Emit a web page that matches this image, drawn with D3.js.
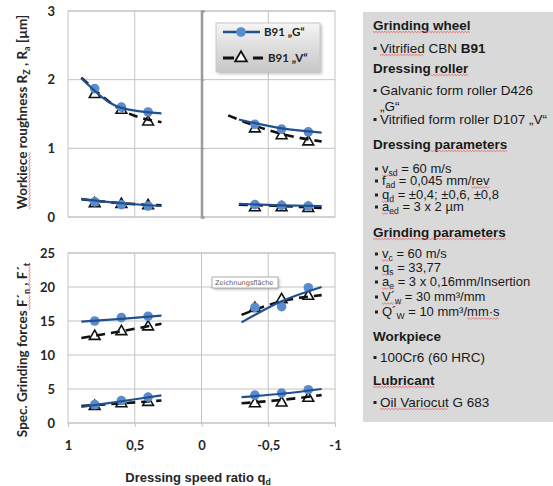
<!DOCTYPE html>
<html>
<head>
<meta charset="utf-8">
<script src="https://cdn.jsdelivr.net/npm/d3@7"></script>
<style>
  body { margin: 0; background: #fff; }
</style>
</head>
<body>
<script>
// Dressing speed ratios of the measured points
const qd = [0.8, 0.6, 0.4, -0.4, -0.6, -0.8];

// Workpiece roughness [µm]
const rzG = [1.87, 1.60, 1.53, 1.35, 1.28, 1.24];
const rzV = [1.80, 1.57, 1.40, 1.30, 1.20, 1.11];
const raG = [0.22, 0.18, 0.16, 0.18, 0.17, 0.16];
const raV = [0.21, 0.20, 0.18, 0.15, 0.15, 0.14];

// Spec. grinding forces [N/mm]
const fnG = [15.0, 15.5, 15.7, 17.0, 17.1, 19.9];
const fnV = [12.9, 13.6, 14.3, 17.0, 18.3, 18.8];
const ftG = [2.7, 3.3, 3.8, 4.1, 4.4, 4.9];
const ftV = [2.6, 3.0, 3.2, 3.0, 3.1, 3.8];

// Trend lines: [q, value]
const trendRzGL = [[0.9, 2.02], [0.6, 1.59], [0.3, 1.51]];
const trendRzVL = [[0.9, 2.03], [0.6, 1.56], [0.3, 1.38]];
const trendRzGR = [[-0.28, 1.42], [-0.6, 1.29], [-0.9, 1.23]];
const trendRzVR = [[-0.2, 1.48], [-0.4, 1.33], [-0.6, 1.21], [-0.9, 1.10]];
const trendRaGL = [[0.9, 0.26], [0.6, 0.20], [0.3, 0.16]];
const trendRaVL = [[0.9, 0.26], [0.6, 0.20], [0.3, 0.17]];
const trendRaGR = [[-0.28, 0.19], [-0.6, 0.17], [-0.9, 0.16]];
const trendRaVR = [[-0.28, 0.18], [-0.6, 0.16], [-0.9, 0.13]];
const trendFnGL = [[0.9, 14.9], [0.6, 15.3], [0.3, 15.8]];
const trendFnVL = [[0.9, 12.5], [0.6, 13.5], [0.3, 14.6]];
const trendFnGR = [[-0.3, 14.8], [-0.6, 17.9], [-0.9, 20.0]];
const trendFnVR = [[-0.3, 15.9], [-0.6, 17.9], [-0.9, 18.8]];
const trendFtGL = [[0.9, 2.35], [0.6, 3.2], [0.3, 4.05]];
const trendFtVL = [[0.9, 2.5], [0.6, 2.9], [0.3, 3.3]];
const trendFtGR = [[-0.3, 3.8], [-0.6, 4.3], [-0.9, 5.0]];
const trendFtVR = [[-0.3, 2.9], [-0.6, 3.4], [-0.9, 4.1]];

// Axis ticks
const xTicks = [1, 0.5, 0, -0.5, -1];
const topTicks = [0, 1, 2, 3];
const botTicks = [0, 5, 10, 15, 20, 25];
const legendLabels = ["B91 \u201eG\u201c", "B91 \u201eV\u201c"];

// Text of the side panel (u = red spell-check squiggle, sub = subscript, b = bold)
const panelLines = [
  { kind: "h", y: 29.5, parts: [{ t: "Grinding", u: 1 }, { t: " " }, { t: "wheel", u: 1 }] },
  { kind: "item", y: 52.5, parts: [{ t: "Vitrified", u: 1 }, { t: " CBN " }, { t: "B91", b: 1 }] },
  { kind: "h", y: 72.5, parts: [{ t: "Dressing " }, { t: "roller", u: 1 }] },
  { kind: "item", y: 94.5, parts: [{ t: "Galvanic form roller D426" }] },
  { kind: "cont", y: 110.5, parts: [{ t: "\u201eG\u201c" }] },
  { kind: "item", y: 123.5, parts: [{ t: "Vitrified form roller D107 \u201eV\u201c" }] },
  { kind: "h", y: 148.5, parts: [{ t: "Dressing " }, { t: "parameters", u: 1 }] },
  { kind: "sub", y: 173, parts: [{ t: "v", u: 1 }, { t: "sd", sub: 1, u: 1 }, { t: " = 60 m/s" }] },
  { kind: "sub", y: 185, parts: [{ t: "f" }, { t: "ad", sub: 1 }, { t: " = 0,045 mm/" }, { t: "rev", u: 1 }] },
  { kind: "sub", y: 199, parts: [{ t: "q", u: 1 }, { t: "d", sub: 1, u: 1 }, { t: " = \u00b10,4; \u00b10,6, \u00b10,8" }] },
  { kind: "sub", y: 211, parts: [{ t: "a", u: 1 }, { t: "ed", sub: 1, u: 1 }, { t: " = 3 x 2 \u00b5m" }] },
  { kind: "h", y: 236.5, parts: [{ t: "Grinding", u: 1 }, { t: " " }, { t: "parameters", u: 1 }] },
  { kind: "sub", y: 258, parts: [{ t: "v", u: 1 }, { t: "c", sub: 1, u: 1 }, { t: " = 60 m/s" }] },
  { kind: "sub", y: 272, parts: [{ t: "q", u: 1 }, { t: "s", sub: 1, u: 1 }, { t: " = 33,77" }] },
  { kind: "sub", y: 286, parts: [{ t: "a", u: 1 }, { t: "e", sub: 1, u: 1 }, { t: " = 3 x 0,16mm/Insertion" }] },
  { kind: "sub", y: 301, parts: [{ t: "V\u00b4", u: 1 }, { t: "w", sub: 1, u: 1 }, { t: " = 30 mm\u00b3/mm" }] },
  { kind: "sub", y: 316, parts: [{ t: "Q\u00b4" }, { t: "W", sub: 1 }, { t: " = 10 mm\u00b3/" }, { t: "mm\u00b7s", u: 1 }] },
  { kind: "h", y: 340.5, parts: [{ t: "Workpiece" }] },
  { kind: "item", y: 361.5, parts: [{ t: "100Cr6 (60 HRC)" }] },
  { kind: "h", y: 384.5, parts: [{ t: "Lubricant", u: 1 }] },
  { kind: "item", y: 406.5, parts: [{ t: "Oil", u: 1 }, { t: " " }, { t: "Variocut", u: 1 }, { t: " G 683" }] }
];

const width = 553, height = 486;
const navy = "#20508f", dotBlue = "#5a8ccd", grid = "#c3c3c3";
const chartFont = "Lato, 'Open Sans', sans-serif";
const panelFont = "'Liberation Sans', Arial, sans-serif";

const svg = d3.select("body").append("svg")
    .attr("width", width)
    .attr("height", height);

const defs = svg.append("defs");
const grad = defs.append("linearGradient").attr("id", "legGrad")
    .attr("x1", 0).attr("y1", 0).attr("x2", 0).attr("y2", 1);
grad.append("stop").attr("offset", "0%").attr("stop-color", "#f5f5f5");
grad.append("stop").attr("offset", "100%").attr("stop-color", "#c6c6c6");
const blur = defs.append("filter").attr("id", "soft")
    .attr("x", "-20%").attr("y", "-20%").attr("width", "140%").attr("height", "140%");
blur.append("feGaussianBlur").attr("stdDeviation", 1.5);

// Scales
const x = d3.scaleLinear().domain([1, -1]).range([68, 335]);
const yTop = d3.scaleLinear().domain([0, 3]).range([217, 11]);
const yBot = d3.scaleLinear().domain([0, 25]).range([423, 253]);

// red wavy underline
function squiggle(g, x0, x1, y) {
    const pts = [];
    let up = true;
    for (let xx = x0; xx <= x1 + 0.01; xx += 1.5) {
        pts.push([xx, y + (up ? -0.7 : 0.7)]);
        up = !up;
    }
    g.append("path")
        .attr("d", d3.line()(pts))
        .attr("fill", "none")
        .attr("stroke", "#e25a5a")
        .attr("stroke-width", 0.8);
}

// Text made of parts, measured piece by piece for the underlines
function richText(parent, tx, ty, parts, o) {
    const outer = parent.append("g")
        .attr("transform", `translate(${tx},${ty})` + (o.rotate ? ` rotate(${o.rotate})` : ""));
    const inner = outer.append("g");
    const text = inner.append("text")
        .attr("font-family", o.font)
        .attr("font-size", o.size)
        .attr("font-weight", o.weight || "normal")
        .attr("fill", o.fill || "#000");
    const marks = [];
    let prev = 0, shift = 0;
    parts.forEach(p => {
        const span = text.append("tspan").text(p.t);
        const want = p.sub ? o.size * 0.25 : 0;
        if (want !== shift) { span.attr("dy", want - shift); shift = want; }
        if (p.sub) span.attr("font-size", o.size * 0.66);
        if (p.b) span.attr("font-weight", "bold");
        const end = text.node().getComputedTextLength();
        if (p.u) marks.push([prev, end]);
        prev = end;
    });
    if (o.anchor === "middle") inner.attr("transform", `translate(${-prev / 2},0)`);
    marks.forEach(m => squiggle(inner, m[0], m[1], 2.5));
    return prev;
}

// Plot frame, grid and axes for one panel
function drawFrame(y, yTicks, vLines) {
    const g = svg.append("g");
    g.selectAll(".hgrid").data(yTicks).enter().append("line")
        .attr("x1", x(1)).attr("x2", x(-1))
        .attr("y1", d => y(d)).attr("y2", d => y(d))
        .attr("stroke", grid).attr("stroke-width", 1);
    g.selectAll(".vgrid").data(vLines).enter().append("line")
        .attr("x1", d => x(d)).attr("x2", d => x(d))
        .attr("y1", y.range()[0]).attr("y2", y.range()[1])
        .attr("stroke", grid).attr("stroke-width", 1);
    g.append("rect")
        .attr("x", x(1)).attr("y", y.range()[1])
        .attr("width", x(-1) - x(1)).attr("height", y.range()[0] - y.range()[1])
        .attr("fill", "none").attr("stroke", grid);

    const yAxis = svg.append("g")
        .attr("transform", `translate(${x(1)},0)`)
        .call(d3.axisLeft(y).tickValues(yTicks).tickSize(0).tickPadding(13)
            .tickFormat(d => String(d)));
    yAxis.select(".domain").remove();
    yAxis.selectAll("text")
        .attr("font-family", chartFont).attr("font-weight", "bold")
        .attr("font-size", 13).attr("fill", "#262626");
    return g;
}

// Trend line + markers of one series
function drawSeries(g, y, vals, trends, isG) {
    const line = d3.line()
        .x(d => x(d[0])).y(d => y(d[1]))
        .curve(d3.curveMonotoneX);
    if (isG) {
        g.selectAll(null).data(qd.map((q, i) => [q, vals[i]])).enter().append("circle")
            .attr("cx", d => x(d[0])).attr("cy", d => y(d[1]))
            .attr("r", 4.8).attr("fill", dotBlue);
    } else {
        g.selectAll(null).data(qd.map((q, i) => [q, vals[i]])).enter().append("path")
            .attr("transform", d => `translate(${x(d[0])},${y(d[1]) + 1})`)
            .attr("d", d3.symbol(d3.symbolTriangle, 50))
            .attr("fill", "#fff").attr("stroke", "#111").attr("stroke-width", 1.6);
    }
    trends.forEach(t => {
        g.append("path").attr("d", line(t))
            .attr("fill", "none")
            .attr("stroke", isG ? navy : "#111")
            .attr("stroke-width", isG ? 2.2 : 2.6)
            .attr("stroke-dasharray", isG ? null : "9,6");
    });
}

// ---- Top panel: roughness ----
drawFrame(yTop, topTicks, [0.5, -0.5]);
const midAxis = svg.append("g")
    .attr("transform", `translate(${x(0)},0)`)
    .call(d3.axisRight(yTop).tickValues(topTicks).tickSize(3).tickFormat(""));
midAxis.selectAll("path, line").attr("stroke", "#9a9a9a");
midAxis.select(".domain").attr("stroke-width", 2.5);

const topMarks = svg.append("g");
drawSeries(topMarks, yTop, rzV, [trendRzVL, trendRzVR], false);
drawSeries(topMarks, yTop, raV, [trendRaVL, trendRaVR], false);
drawSeries(topMarks, yTop, rzG, [trendRzGL, trendRzGR], true);
drawSeries(topMarks, yTop, raG, [trendRaGL, trendRaGR], true);

// ---- Bottom panel: forces ----
drawFrame(yBot, botTicks, [0.5, 0, -0.5]);
const xAxis = svg.append("g")
    .attr("transform", `translate(0,${yBot(0)})`)
    .call(d3.axisBottom(x).tickValues(xTicks).tickSize(4).tickPadding(14)
        .tickFormat(d => String(d).replace(".", ",")));
xAxis.select(".domain").remove();
xAxis.selectAll("line").attr("stroke", grid);
xAxis.selectAll("text")
    .attr("font-family", chartFont).attr("font-weight", "bold")
    .attr("font-size", 13).attr("fill", "#262626");

const botMarks = svg.append("g");
drawSeries(botMarks, yBot, fnV, [trendFnVL, trendFnVR], false);
drawSeries(botMarks, yBot, ftV, [trendFtVL, trendFtVR], false);
drawSeries(botMarks, yBot, fnG, [trendFnGL, trendFnGR], true);
drawSeries(botMarks, yBot, ftG, [trendFtGL, trendFtGR], true);

// "Zeichnungsfläche" tooltip caught in the screenshot
const tip = svg.append("g").attr("transform", "translate(212,277)");
tip.append("rect").attr("x", 1.5).attr("y", 1.5).attr("width", 66).attr("height", 11)
    .attr("fill", "#bbb").attr("filter", "url(#soft)");
tip.append("rect").attr("width", 66).attr("height", 11)
    .attr("fill", "#fff").attr("stroke", "#8d8d8d").attr("stroke-width", 0.7);
tip.append("text").attr("x", 3).attr("y", 8.3)
    .attr("font-family", "'DejaVu Sans', sans-serif").attr("font-size", 6.6)
    .attr("fill", "#555").text("Zeichnungsfläche");

// ---- Legend ----
const leg = svg.append("g").attr("transform", "translate(216,23)");
leg.append("rect").attr("x", 2).attr("y", 2).attr("width", 104).attr("height", 49)
    .attr("fill", "#999").attr("opacity", 0.6).attr("filter", "url(#soft)");
leg.append("rect").attr("width", 104).attr("height", 49)
    .attr("fill", "url(#legGrad)").attr("stroke", "#c8c8c8");
leg.append("line").attr("x1", 7).attr("x2", 44).attr("y1", 9).attr("y2", 9)
    .attr("stroke", navy).attr("stroke-width", 2.5);
leg.append("circle").attr("cx", 25).attr("cy", 9).attr("r", 4.8).attr("fill", dotBlue);
leg.append("line").attr("x1", 7).attr("x2", 47).attr("y1", 35).attr("y2", 35)
    .attr("stroke", "#111").attr("stroke-width", 2.8).attr("stroke-dasharray", "11,19,11");
leg.append("path").attr("transform", "translate(25,35)")
    .attr("d", d3.symbol(d3.symbolTriangle, 60))
    .attr("fill", "#fff").attr("stroke", "#111").attr("stroke-width", 1.8);
leg.selectAll(null).data(legendLabels).enter().append("text")
    .attr("x", (d, i) => i === 0 ? 48 : 52)
    .attr("y", (d, i) => i === 0 ? 13 : 39)
    .attr("font-family", chartFont).attr("font-weight", "bold")
    .attr("font-size", 11.5).attr("fill", "#222")
    .text(d => d);

// ---- Axis titles ----
richText(svg, 27, 112, [
    { t: "Workiece", u: 1 }, { t: " roughness R" }, { t: "Z", sub: 1 }, { t: " , R" }, { t: "a", sub: 1 }, { t: " [\u00b5m]" }
], { font: chartFont, size: 13.5, weight: "bold", fill: "#262626", anchor: "middle", rotate: -90 });
richText(svg, 27, 350, [
    { t: "Spec. Grinding forces " }, { t: "F\u00b4", u: 1 }, { t: "n", sub: 1, u: 1 }, { t: " , F\u00b4", u: 1 }, { t: "t", sub: 1, u: 1 }
], { font: chartFont, size: 13.5, weight: "bold", fill: "#262626", anchor: "middle", rotate: -90 });
richText(svg, 198, 482, [
    { t: "Dressing speed ratio q" }, { t: "d", sub: 1 }
], { font: panelFont, size: 13, weight: "bold", fill: "#262626", anchor: "middle" });

// ---- Side panel ----
svg.append("rect").attr("x", 363).attr("y", 12).attr("width", 190).attr("height", 410)
    .attr("fill", "#d9d9d9");
panelLines.forEach(l => {
    const head = l.kind === "h";
    const size = l.kind === "sub" ? 13 : 13.5;
    const tx = head ? 373 : (l.kind === "sub" ? 382 : 380);
    if (l.kind === "item" || l.kind === "sub") {
        svg.append("rect")
            .attr("x", l.kind === "sub" ? 375 : 373.5).attr("y", l.y - 5.5)
            .attr("width", 3).attr("height", 3).attr("fill", "#222");
    }
    richText(svg, tx, l.y, l.parts, {
        font: panelFont, size: size, weight: head ? "bold" : "normal", fill: "#1a1a1a"
    });
});
</script>
</body>
</html>
